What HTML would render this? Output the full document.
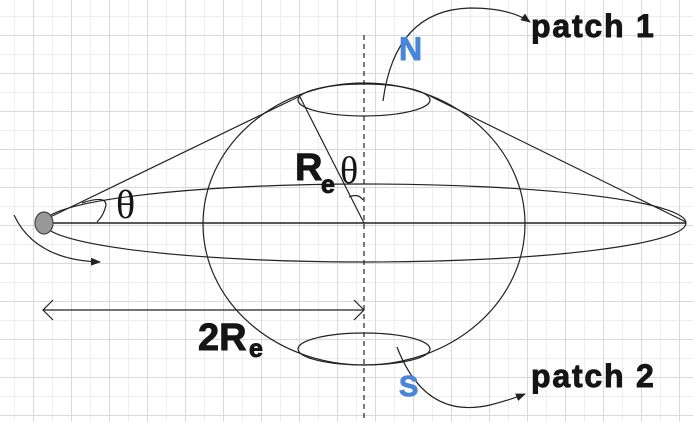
<!DOCTYPE html>
<html><head><meta charset="utf-8"><style>
html,body{margin:0;padding:0;background:#fff;}
svg{display:block}
.b{font-family:"Liberation Sans",sans-serif;font-weight:bold;fill:#151515;stroke:#151515;stroke-width:0.9}
.t{font-family:"Liberation Serif",serif;fill:#151515}
</style></head><body>
<svg width="693" height="422" viewBox="0 0 693 422" xmlns="http://www.w3.org/2000/svg">
<defs>
<pattern id="g" x="14" y="16" width="38" height="38" patternUnits="userSpaceOnUse">
<path d="M0.5 0V38M0 0.5H38" stroke="#eeeeee" stroke-width="1" fill="none"/>
<path d="M19.5 0V38M0 19.5H38" stroke="#d9d9d9" stroke-width="1" fill="none"/>
</pattern>
<marker id="ah" markerWidth="10" markerHeight="10" refX="9" refY="5" orient="auto" markerUnits="userSpaceOnUse">
<path d="M0 1L10 5L0 9Z" fill="#222"/>
</marker>
</defs>
<rect width="693" height="422" fill="url(#g)"/>
<g fill="none" stroke="#222" stroke-width="1.2">
<ellipse cx="364" cy="224" rx="161" ry="141"/>
<ellipse cx="365" cy="223" rx="321" ry="39"/>
<line x1="43" y1="223" x2="686" y2="223" stroke-width="1.4"/>
<line x1="44" y1="220" x2="300" y2="96"/>
<line x1="686" y1="222" x2="430" y2="96"/>
<line x1="300" y1="97" x2="364" y2="223"/>
<ellipse cx="364" cy="100" rx="66" ry="16"/>
<ellipse cx="364" cy="349" rx="66" ry="16"/>
<line x1="364" y1="35" x2="364" y2="422" stroke-dasharray="5,4"/>
<line x1="43" y1="310" x2="364" y2="310"/>
<path d="M53 300L43 310L53 320M354 300L364 310L354 320"/>
<path d="M82 203Q106 195 106 205Q104 215 97 222"/>
<path d="M349 197Q358 193 363 200"/>
<path d="M14 215Q35 260 100 262" marker-end="url(#ah)"/>
<path d="M383 101Q395 10 470 8Q510 8 530 22" marker-end="url(#ah)"/>
<path d="M397 347Q425 420 490 405Q510 400 525 394" marker-end="url(#ah)"/>
</g>
<ellipse cx="44" cy="223" rx="9" ry="11" fill="#999" stroke="#444" stroke-width="1.2"/>
<text class="t" x="116" y="218" font-size="40">θ</text>
<text class="t" x="340" y="183" font-size="38">θ</text>
<text class="b" x="295" y="180" font-size="38">R</text>
<text class="b" x="321" y="193" font-size="25">e</text>
<text class="b" x="198" y="350" font-size="38">2R</text>
<text class="b" x="249" y="357" font-size="25">e</text>
<text class="b" x="399" y="60" font-size="32" style="fill:#4a86d8;stroke:#4a86d8">N</text>
<text class="b" x="399" y="396" font-size="29" style="fill:#4a86d8;stroke:#4a86d8">S</text>
<text class="b" x="531" y="37" font-size="32" letter-spacing="1.8">patch 1</text>
<text class="b" x="531" y="387" font-size="32" letter-spacing="1.8">patch 2</text>
</svg>
</body></html>
